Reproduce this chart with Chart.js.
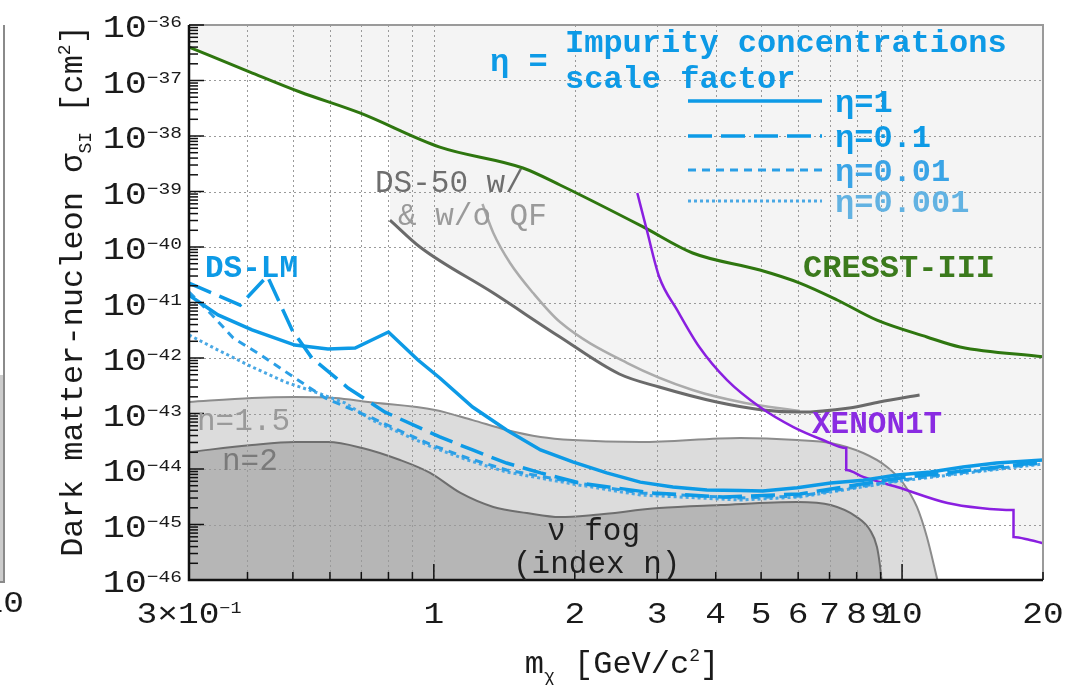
<!DOCTYPE html>
<html>
<head>
<meta charset="utf-8">
<script src="https://cdn.jsdelivr.net/npm/chart.js@4.4.0/dist/chart.umd.min.js"></script>
<style>
  html, body { margin: 0; padding: 0; background: #fff; }
  #wrap { width: 1082px; height: 685px; position: relative; }
</style>
</head>
<body>
<div id="wrap"><canvas id="chart"></canvas></div>
<script>
// ---- data (mass in GeV/c^2, cross-section in cm^2) ----
const cresstMass  = [0.3, 0.405, 0.518, 0.695, 1.03, 1.55, 1.86, 2.8, 3.57, 4.97, 6.05, 7.27, 8.84, 11.3, 13.3, 20];
const cresstSigma = [4.0e-37, 1.42e-37, 6.2e-38, 2.6e-38, 6.3e-39, 2.65e-39, 1.31e-39, 2.3e-40, 7.8e-41, 3.85e-41, 2.24e-41, 1.11e-41, 4.8e-42, 2.39e-42, 1.58e-42, 1.05e-42];

const ds50QfMass  = [0.806, 0.934, 1.34, 1.86, 2.49, 3.03, 4.02, 5.04, 6.05, 7.72, 8.94, 10.9];
const ds50QfSigma = [3.06e-40, 1.0e-40, 1.48e-41, 2.39e-42, 5.15e-43, 3.0e-43, 1.61e-43, 1.16e-43, 1.06e-43, 1.26e-43, 1.61e-43, 2.15e-43];

const ds50NoQfMass  = [1.27, 1.34, 1.455, 1.63, 1.86, 2.59, 3.57, 4.62, 6.05];
const ds50NoQfSigma = [5.96e-40, 1.79e-40, 5.15e-41, 1.48e-41, 4.45e-42, 8.1e-43, 2.65e-43, 1.55e-43, 1.11e-43];

const xenonMass  = [2.72, 2.85, 3.03, 3.31, 3.69, 4.23, 4.97, 5.86, 6.78, 7.6, 7.6, 8.26, 9.76, 12.5, 14.7, 17.3, 17.3, 18.75, 20];
const xenonSigma = [9.4e-40, 2.02e-40, 2.88e-41, 7.3e-42, 1.58e-42, 4.0e-43, 1.31e-43, 5.7e-44, 3.33e-44, 2.39e-44, 9.6e-45, 7.2e-45, 4.74e-45, 2.44e-45, 1.98e-45, 1.82e-45, 5.96e-46, 5.26e-46, 4.6e-46];

const eta1Mass  = [0.3, 0.346, 0.409, 0.505, 0.594, 0.679, 0.80, 0.925, 1.03, 1.21, 1.43, 1.69, 1.98, 2.34, 2.76, 3.24, 3.83, 4.51, 5.04, 5.97, 7.04, 8.26, 9.76, 11.5, 13.5, 15.9, 20];
const eta1Sigma = [1.36e-41, 5.96e-42, 3.2e-42, 1.71e-42, 1.45e-42, 1.51e-42, 2.94e-42, 9.2e-43, 4.36e-43, 1.31e-43, 5.05e-44, 2.2e-44, 1.34e-44, 8.5e-45, 5.8e-45, 4.74e-45, 4.2e-45, 4.1e-45, 4.0e-45, 4.6e-45, 5.6e-45, 6.3e-45, 7.8e-45, 8.8e-45, 1.09e-44, 1.28e-44, 1.45e-44];

const eta0p1Mass  = [0.3, 0.386, 0.441, 0.498, 0.549, 0.656, 0.787, 1.03, 1.21, 1.43, 1.69, 2.05, 2.94, 4.15, 6.05, 9.9, 20];
const eta0p1Sigma = [2.24e-41, 9.0e-42, 3.0e-41, 3.2e-42, 1.0e-42, 2.88e-43, 1.06e-43, 3.78e-44, 2.2e-44, 1.28e-44, 8.5e-45, 5.6e-45, 3.7e-45, 3.13e-45, 3.55e-45, 6.9e-45, 1.34e-44];

const eta0p01Mass  = [0.3, 0.336, 0.373, 0.43, 0.505, 0.586, 0.738, 0.838, 0.991, 1.18, 1.43, 1.98, 2.76, 4.51, 6.05, 9.9, 20];
const eta0p01Sigma = [1.55e-41, 5.96e-42, 2.29e-42, 1.09e-42, 4.36e-43, 1.9e-43, 8.3e-44, 5.05e-44, 2.7e-44, 1.58e-44, 9.6e-45, 5.8e-45, 3.7e-45, 3.0e-45, 3.27e-45, 6.3e-45, 1.28e-44];

const eta0p001Mass  = [0.3, 0.346, 0.409, 0.481, 0.566, 0.646, 0.738, 0.838, 0.991, 1.18, 1.43, 1.98, 2.76, 4.51, 6.05, 9.9, 20];
const eta0p001Sigma = [2.6e-42, 1.39e-42, 6.9e-43, 3.7e-43, 2.34e-43, 1.55e-43, 7.6e-44, 4.65e-44, 2.49e-44, 1.45e-44, 8.8e-45, 5.37e-45, 3.4e-45, 2.76e-45, 3.13e-45, 6.08e-45, 1.23e-44];

const fog15Mass  = [0.3, 0.409, 0.505, 0.615, 0.724, 1.006, 1.21, 1.43, 1.69, 1.98, 2.76, 4.51, 5.97, 7.04, 8.26, 9.29, 10.05, 10.76, 11.3, 11.9];
const fog15Sigma = [1.61e-43, 1.9e-43, 1.98e-43, 1.9e-43, 1.61e-43, 1.16e-43, 7.6e-44, 5.05e-44, 3.78e-44, 3.33e-44, 3.06e-44, 3.62e-44, 3.33e-44, 2.94e-44, 1.94e-44, 1.09e-44, 5.6e-45, 2.07e-45, 5.96e-46, 1e-46];

const fog2Mass  = [0.3, 0.409, 0.505, 0.594, 0.703, 0.847, 0.982, 1.14, 1.34, 1.58, 1.86, 2.19, 3.03, 4.09, 5.97, 7.04, 8.01, 8.54, 8.84, 8.98, 9.04];
const fog2Sigma = [2.02e-44, 2.7e-44, 3.06e-44, 3.06e-44, 2.39e-44, 1.45e-44, 8.5e-45, 3.7e-45, 2.07e-45, 1.61e-45, 1.36e-45, 1.48e-45, 1.98e-45, 2.24e-45, 2.54e-45, 2.24e-45, 1.36e-45, 7.96e-46, 3.94e-46, 1.71e-46, 1e-46];

// ---- axes ----
const xGridValues  = [0.3, 0.4, 0.5, 0.6, 0.7, 0.8, 0.9, 1, 2, 3, 4, 5, 6, 7, 8, 9, 10, 20];
const xLabelValues = [0.3, 1, 2, 3, 4, 5, 6, 7, 8, 9, 10, 20];
const xLabelTexts  = ['3×10^{−1}', '1', '2', '3', '4', '5', '6', '7', '8', '9', '10', '20'];
const yTickValues  = [1e-36, 1e-37, 1e-38, 1e-39, 1e-40, 1e-41, 1e-42, 1e-43, 1e-44, 1e-45, 1e-46];
const yTickTexts   = ['10^{−36}', '10^{−37}', '10^{−38}', '10^{−39}', '10^{−40}', '10^{−41}', '10^{−42}', '10^{−43}', '10^{−44}', '10^{−45}', '10^{−46}'];

const MONO = "'Liberation Mono', 'DejaVu Sans Mono', monospace";
const BLUE = '#0d9ae6';

function pts(xs, ys) {
  return xs.map((x, i) => ({ x: x, y: ys[i] }));
}

function interpLog(xs, ys, x) {
  for (let i = 0; i < xs.length - 1; i++) {
    if (x >= xs[i] && x <= xs[i + 1]) {
      const t = Math.log(x / xs[i]) / Math.log(xs[i + 1] / xs[i]);
      return Math.pow(10, Math.log10(ys[i]) + t * (Math.log10(ys[i + 1]) - Math.log10(ys[i])));
    }
  }
  return ys[ys.length - 1];
}

// excluded region: best existing limit (CRESST, then DS-50, then XENON1T)
const switchMass = 4.9;
const excludedPts = [];
cresstMass.forEach((m, i) => { if (m < ds50QfMass[0]) excludedPts.push({ x: m, y: cresstSigma[i] }); });
excludedPts.push({ x: ds50QfMass[0], y: interpLog(cresstMass, cresstSigma, ds50QfMass[0]) });
ds50QfMass.forEach((m, i) => { if (m < switchMass) excludedPts.push({ x: m, y: ds50QfSigma[i] }); });
xenonMass.forEach((m, i) => { if (m >= switchMass) excludedPts.push({ x: m, y: xenonSigma[i] }); });

// ---- rich text (super/subscripts) ----
function parseRich(s) {
  const parts = [];
  let buf = '', i = 0;
  while (i < s.length) {
    if ((s[i] === '^' || s[i] === '_') && s[i + 1] === '{') {
      if (buf) { parts.push({ t: buf, k: 0 }); buf = ''; }
      const j = s.indexOf('}', i);
      parts.push({ t: s.slice(i + 2, j), k: s[i] === '^' ? 1 : -1 });
      i = j + 1;
    } else {
      buf += s[i];
      i++;
    }
  }
  if (buf) parts.push({ t: buf, k: 0 });
  return parts;
}

function drawRich(ctx, s, x, y, o) {
  const size = o.size || 32, small = o.small || Math.round(size * 0.55);
  const weight = o.weight || 'normal';
  const hs = o.hs || 1;
  const parts = parseRich(s);
  let total = 0;
  parts.forEach(p => {
    ctx.font = weight + ' ' + (p.k ? small : size) + 'px ' + MONO;
    p.w = ctx.measureText(p.t).width * hs;
    total += p.w;
  });
  let cx = x;
  if (o.align === 'right') cx = x - total;
  else if (o.align === 'center') cx = x - total / 2;
  ctx.fillStyle = o.color || '#222';
  ctx.textBaseline = 'alphabetic';
  ctx.textAlign = 'left';
  parts.forEach(p => {
    ctx.font = weight + ' ' + (p.k ? small : size) + 'px ' + MONO;
    const dy = p.k === 1 ? -(o.supRaise || size * 0.3) : (p.k === -1 ? size * 0.28 : 0);
    ctx.save();
    ctx.translate(cx, y + dy);
    ctx.scale(hs, 1);
    ctx.fillText(p.t, 0, 0);
    ctx.restore();
    cx += p.w;
  });
}

function drawGrid(chart) {
  const { ctx, chartArea: a, scales: { x, y } } = chart;
  ctx.save();
  ctx.strokeStyle = '#9a9a9a';
  ctx.lineWidth = 1;
  ctx.setLineDash([2, 3]);
  xGridValues.forEach(v => {
    const px = Math.round(x.getPixelForValue(v)) + 0.5;
    ctx.beginPath(); ctx.moveTo(px, a.top); ctx.lineTo(px, a.bottom); ctx.stroke();
  });
  yTickValues.forEach(v => {
    const py = Math.round(y.getPixelForValue(v)) + 0.5;
    ctx.beginPath(); ctx.moveTo(a.left, py); ctx.lineTo(a.right, py); ctx.stroke();
  });
  ctx.restore();
}

const decorPlugin = {
  id: 'decor',
  afterDatasetDraw(chart, args) {
    if (chart.data.datasets[args.index].label === 'n=2') drawGrid(chart);
  },
  afterDraw(chart) {
    const { ctx, chartArea: a, scales: { x, y } } = chart;
    ctx.save();

    // frame
    ctx.strokeStyle = '#9a9a9a';
    ctx.lineWidth = 2;
    ctx.beginPath(); ctx.moveTo(a.left, a.top); ctx.lineTo(a.right, a.top); ctx.lineTo(a.right, a.bottom); ctx.stroke();
    ctx.strokeStyle = '#111';
    ctx.lineWidth = 2.5;
    ctx.beginPath(); ctx.moveTo(a.left, a.top); ctx.lineTo(a.left, a.bottom); ctx.lineTo(a.right, a.bottom); ctx.stroke();

    // y ticks
    ctx.lineWidth = 1.5;
    for (let d = -46; d <= -36; d++) {
      const py = y.getPixelForValue(Math.pow(10, d));
      ctx.beginPath(); ctx.moveTo(a.left, py); ctx.lineTo(a.left + 15, py); ctx.stroke();
      if (d < -36) {
        for (let k = 2; k <= 9; k++) {
          const pm = y.getPixelForValue(k * Math.pow(10, d));
          ctx.beginPath(); ctx.moveTo(a.left, pm); ctx.lineTo(a.left + 9, pm); ctx.stroke();
        }
      }
    }
    // x ticks
    xGridValues.forEach(v => {
      const px = x.getPixelForValue(v);
      const len = (v === 1 || v === 10) ? 16 : 8;
      ctx.beginPath(); ctx.moveTo(px, a.bottom); ctx.lineTo(px, a.bottom - len); ctx.stroke();
    });

    // tick labels
    yTickValues.forEach((v, i) => {
      const py = y.getPixelForValue(v);
      drawRich(ctx, yTickTexts[i], 182, py + 12, { size: 32, small: 17, hs: 1.15, align: 'right', supRaise: 10, color: '#1a1a1a' });
    });
    xLabelValues.forEach((v, i) => {
      const px = x.getPixelForValue(v);
      drawRich(ctx, xLabelTexts[i], px, 623, { size: 30, small: 16, hs: 1.15, align: 'center', supRaise: 10, color: '#1a1a1a' });
    });

    // axis titles
    drawRich(ctx, 'm_{χ} [GeV/c^{2}]', 622, 673, { size: 32, small: 18, align: 'center', supRaise: 12, color: '#1a1a1a' });
    ctx.save();
    ctx.translate(82, 291);
    ctx.rotate(-Math.PI / 2);
    drawRich(ctx, 'Dark matter-nucleon σ_{SI} [cm^{2}]', 0, 0, { size: 32, small: 18, align: 'center', supRaise: 12, color: '#1a1a1a' });
    ctx.restore();

    // annotations
    drawRich(ctx, 'Impurity concentrations', 565, 52, { size: 32, weight: 'bold', color: BLUE });
    drawRich(ctx, 'scale factor', 565, 88, { size: 32, weight: 'bold', color: BLUE });
    drawRich(ctx, 'η =', 490, 71, { size: 32, weight: 'bold', color: BLUE });
    drawRich(ctx, 'DS-50 w/', 375, 192, { size: 31, color: '#6e6e6e' });
    drawRich(ctx, '& w/o QF', 398, 225, { size: 31, color: '#9a9a9a' });
    drawRich(ctx, 'DS-LM', 205, 277, { size: 31, weight: 'bold', color: BLUE });
    drawRich(ctx, 'CRESST-III', 803, 277, { size: 32, weight: 'bold', color: '#3b7a1c' });
    drawRich(ctx, 'XENON1T', 812, 433, { size: 31, weight: 'bold', color: '#8a2be2' });
    drawRich(ctx, 'n=1.5', 197, 430, { size: 31, color: '#9a9a9a' });
    drawRich(ctx, 'n=2', 222, 470, { size: 31, color: '#7a7a7a' });
    drawRich(ctx, 'ν fog', 547, 540, { size: 31, color: '#1e1e1e' });
    drawRich(ctx, '(index n)', 513, 573, { size: 31, color: '#1e1e1e' });

    // legend keys
    const keys = [
      { y: 101, dash: [], w: 3.5, c: BLUE, label: 'η=1', lc: BLUE },
      { y: 136, dash: [24, 9], w: 3.5, c: BLUE, label: 'η=0.1', lc: BLUE },
      { y: 170, dash: [8, 6], w: 3, c: '#2a9fe6', label: 'η=0.01', lc: '#3aa4e6' },
      { y: 201, dash: [3, 3], w: 3, c: '#4aa8e4', label: 'η=0.001', lc: '#62b2e2' }
    ];
    keys.forEach(k => {
      ctx.save();
      ctx.strokeStyle = k.c;
      ctx.lineWidth = k.w;
      ctx.setLineDash(k.dash);
      ctx.beginPath(); ctx.moveTo(688, k.y); ctx.lineTo(822, k.y); ctx.stroke();
      ctx.restore();
      drawRich(ctx, k.label, 835, k.y + 11, { size: 32, weight: 'bold', color: k.lc });
    });

    // edge of the neighbouring panel
    ctx.fillStyle = '#cccccc';
    ctx.fillRect(0, 375, 4, 207);
    ctx.strokeStyle = '#8a8a8a';
    ctx.lineWidth = 2;
    ctx.beginPath(); ctx.moveTo(4, 25); ctx.lineTo(4, 582); ctx.lineTo(0, 582); ctx.stroke();
    drawRich(ctx, '10', 24, 612, { size: 30, hs: 1.15, align: 'right', color: '#1a1a1a' });

    ctx.restore();
  }
};

Chart.defaults.font.family = MONO;

const lineDefaults = { pointRadius: 0, fill: false, tension: 0 };

new Chart(document.getElementById('chart').getContext('2d'), {
  type: 'line',
  data: {
    datasets: [
      Object.assign({}, lineDefaults, { label: 'η=1', data: pts(eta1Mass, eta1Sigma), borderColor: BLUE, borderWidth: 3.5, order: 1 }),
      Object.assign({}, lineDefaults, { label: 'η=0.1', data: pts(eta0p1Mass, eta0p1Sigma), borderColor: BLUE, borderWidth: 3.5, borderDash: [24, 9], order: 2 }),
      Object.assign({}, lineDefaults, { label: 'η=0.01', data: pts(eta0p01Mass, eta0p01Sigma), borderColor: '#2a9fe6', borderWidth: 3, borderDash: [8, 6], order: 3 }),
      Object.assign({}, lineDefaults, { label: 'η=0.001', data: pts(eta0p001Mass, eta0p001Sigma), borderColor: '#4aa8e4', borderWidth: 3, borderDash: [3, 3], order: 4 }),
      Object.assign({}, lineDefaults, { label: 'XENON1T', data: pts(xenonMass, xenonSigma), borderColor: '#8a1fe0', borderWidth: 2.5, cubicInterpolationMode: 'monotone', order: 5 }),
      Object.assign({}, lineDefaults, { label: 'CRESST-III', data: pts(cresstMass, cresstSigma), borderColor: '#2e760f', borderWidth: 3, cubicInterpolationMode: 'monotone', order: 5 }),
      Object.assign({}, lineDefaults, { label: 'DS-50 w/ QF', data: pts(ds50QfMass, ds50QfSigma), borderColor: '#6a6a6a', borderWidth: 3, cubicInterpolationMode: 'monotone', order: 6 }),
      Object.assign({}, lineDefaults, { label: 'DS-50 w/o QF', data: pts(ds50NoQfMass, ds50NoQfSigma), borderColor: '#ababab', borderWidth: 2.5, cubicInterpolationMode: 'monotone', order: 7 }),
      Object.assign({}, lineDefaults, { label: 'n=2', data: pts(fog2Mass, fog2Sigma), fill: 'start', backgroundColor: '#b6b6b6', borderColor: '#6e6e6e', borderWidth: 2, cubicInterpolationMode: 'monotone', order: 8 }),
      Object.assign({}, lineDefaults, { label: 'n=1.5', data: pts(fog15Mass, fog15Sigma), fill: 'start', backgroundColor: '#dcdcdc', borderColor: '#8c8c8c', borderWidth: 2, cubicInterpolationMode: 'monotone', order: 9 }),
      Object.assign({}, lineDefaults, { label: 'excluded', data: excludedPts, fill: 'end', backgroundColor: '#f4f4f4', borderWidth: 0, borderColor: 'rgba(0,0,0,0)', order: 10 })
    ]
  },
  options: {
    responsive: true,
    maintainAspectRatio: false,
    animation: false,
    layout: { padding: { left: 189, right: 39, top: 25, bottom: 105 } },
    plugins: { legend: { display: false }, tooltip: { enabled: false } },
    scales: {
      x: { type: 'logarithmic', min: 0.3, max: 20, display: false },
      y: { type: 'logarithmic', min: 1e-46, max: 1e-36, display: false }
    }
  },
  plugins: [decorPlugin]
});
</script>
</body>
</html>
